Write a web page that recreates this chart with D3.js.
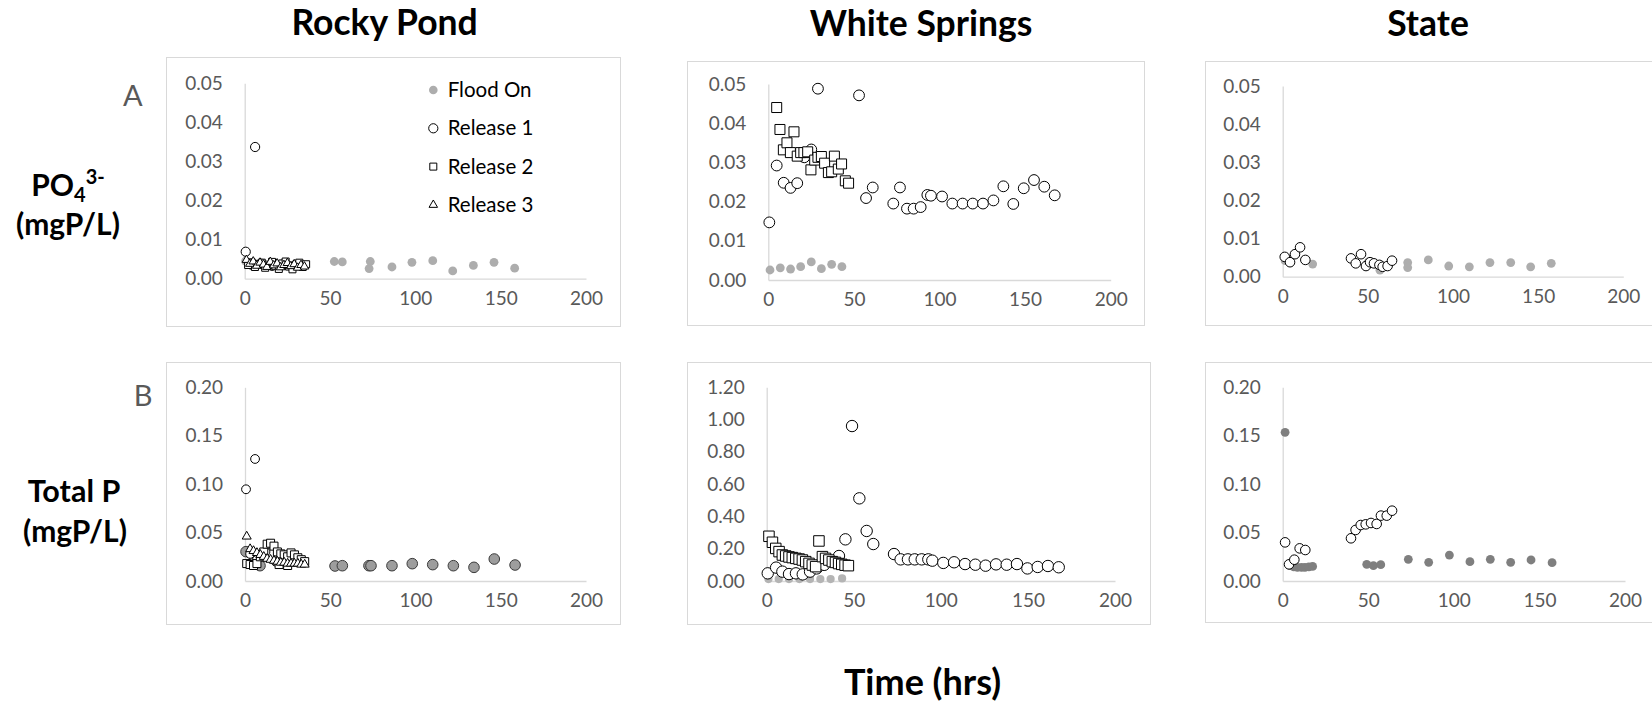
<!DOCTYPE html>
<html>
<head>
<meta charset="utf-8">
<script src="https://cdn.jsdelivr.net/npm/d3@7"></script>
<style>
  body { margin: 0; background: #fff; }
  svg { display: block; font-family: Lato, "Open Sans", sans-serif; }
</style>
</head>
<body>
<div id="container"></div>
<script>
// ---------------- data (hours, mgP/L) ----------------
var sites = ["Rocky Pond", "White Springs", "State"];
var seriesNames = ["Flood On", "Release 1", "Release 2", "Release 3"];
var xTicks = [0, 50, 100, 150, 200];
var yTicksPO4 = [0, 0.01, 0.02, 0.03, 0.04, 0.05];
var yTicksTP = [0, 0.05, 0.10, 0.15, 0.20];
var yTicksTPws = [0, 0.2, 0.4, 0.6, 0.8, 1.0, 1.2];

// Rocky Pond, PO4
var rpA_flood = [[0.5,0.0045],[52.5,0.0044],[57.2,0.0043],[72.9,0.0026],[73.6,0.0044],[86.3,0.003],[98,0.0042],[110.2,0.0046],[121.9,0.002],[134,0.0034],[146.1,0.0042],[158.2,0.0027]];
var rpA_rel1 = [[0.6,0.0069],[6.1,0.0337],[4,0.0036],[10,0.0038],[16,0.0033],[22,0.0036],[28,0.0031]];
var rpA_rel2 = [[2,0.0035],[4,0.0042],[6,0.003],[8,0.0038],[10,0.0041],[12,0.0028],[14,0.0036],[16,0.0043],[18,0.0032],[20,0.0025],[22,0.0039],[24,0.0044],[26,0.0031],[28,0.0024],[30,0.0036],[32,0.0041],[34,0.003],[36,0.0037]];
var rpA_rel3 = [[1,0.0048],[3,0.0038],[5,0.0044],[7,0.0033],[9,0.0041],[11,0.0036],[13,0.003],[15,0.0043],[17,0.0034],[19,0.0039],[21,0.0029],[23,0.0035],[25,0.004],[27,0.0032],[29,0.0037],[31,0.0028],[33,0.0035],[35,0.0031]];

// White Springs, PO4
var wsA_flood = [[1,0.00255],[7,0.0031],[13,0.0028],[18.9,0.0034],[25.1,0.0046],[31,0.0029],[37,0.004],[43,0.0034]];
var wsA_rel1 = [[0.6,0.0147],[4.9,0.0292],[9,0.0248],[13,0.0235],[16.9,0.0247],[21,0.0313],[25.1,0.0333],[29,0.0488],[53,0.0471],[57.1,0.0209],[61,0.0236],[73,0.0195],[76.9,0.0236],[81,0.0182],[84.9,0.0182],[89,0.0186],[92.9,0.0217],[95,0.0215],[101.5,0.0213],[107.5,0.0195],[113.5,0.0195],[119.4,0.0195],[125.4,0.0195],[131.5,0.0203],[137.3,0.0239],[143.1,0.0194],[149.2,0.0234],[155.2,0.0255],[161.2,0.0238],[167.3,0.0216]];
var wsA_rel2 = [[4.9,0.044],[6.8,0.0384],[8.8,0.0332],[10.9,0.035],[12.9,0.0325],[15,0.0378],[16.9,0.0316],[18.9,0.0325],[20.8,0.0325],[23,0.0327],[24.9,0.0281],[27.1,0.0306],[29,0.0313],[31,0.0315],[32.9,0.0298],[35.1,0.0274],[37,0.0276],[38.6,0.0316],[40.9,0.0283],[42.8,0.0296],[45,0.0253],[46.9,0.0247]];

// State, PO4
var stA_flood = [[1.4,0.0042],[4.3,0.0038],[13.1,0.0045],[17.6,0.0033],[50.3,0.0039],[57.1,0.0017],[73.4,0.0037],[73.4,0.0024],[85.5,0.0044],[97.5,0.0028],[109.6,0.0026],[121.7,0.0037],[133.9,0.0037],[145.6,0.0026],[157.7,0.0035]];
var stA_rel1 = [[1.2,0.0052],[4.3,0.0038],[7.2,0.0059],[10.2,0.0077],[13.3,0.0044],[40.1,0.0048],[42.9,0.0035],[46,0.0059],[48.9,0.0028],[51.3,0.0038],[53.6,0.0035],[56.8,0.0031],[58.7,0.0026],[61.6,0.0028],[64.2,0.0042]];

// Rocky Pond, Total P
var rpB_flood = [[0.6,0.0303],[5,0.02],[8.8,0.0158],[52.8,0.0155],[57.1,0.0158],[72.7,0.0158],[73.9,0.0158],[86.2,0.0158],[98.1,0.0179],[110.1,0.0169],[122.2,0.0158],[134.3,0.0141],[146.2,0.0227],[158.4,0.0165]];
var rpB_rel1 = [[0.6,0.0947],[5.9,0.126],[3,0.028],[7,0.022],[12,0.03],[18,0.02]];
var rpB_rel2 = [[1,0.018],[3,0.017],[5,0.016],[7,0.018],[9,0.025],[11,0.03],[13,0.038],[15,0.039],[17,0.036],[19,0.03],[21,0.028],[23,0.027],[25,0.025],[27,0.029],[29,0.027],[31,0.024],[33,0.022],[35,0.02],[20,0.017],[25,0.016]];
var rpB_rel3 = [[1,0.046],[3,0.033],[5,0.031],[7,0.029],[9,0.027],[11,0.025],[13,0.023],[15,0.022],[17,0.021],[19,0.02],[21,0.019],[23,0.019],[25,0.018],[27,0.018],[29,0.018],[31,0.018],[33,0.017],[35,0.017]];

// White Springs, Total P
var wsB_flood = [[1,0.012],[6.9,0.012],[12.8,0.012],[18.8,0.012],[24.9,0.012],[30.8,0.012],[36.7,0.012],[43.3,0.016]];
var wsB_rel1 = [[0.6,0.0475],[5.4,0.083],[9,0.058],[12.8,0.043],[16.8,0.0475],[20.7,0.041],[24.9,0.058],[28.7,0.078],[33,0.1],[41.5,0.155],[45.2,0.258],[49,0.96],[53.2,0.512],[57.4,0.31],[61.2,0.229],[73.1,0.167],[76.9,0.134],[81.1,0.134],[85,0.134],[89,0.134],[92.8,0.134],[95.1,0.126],[101.4,0.112],[107.6,0.116],[113.9,0.105],[119.8,0.101],[125.7,0.095],[131.7,0.103],[137.8,0.101],[143.7,0.105],[149.7,0.078],[155.6,0.087],[161.5,0.093],[167.7,0.085]];
var wsB_rel2 = [[1.3,0.277],[3.3,0.24],[5.2,0.202],[7.1,0.182],[9,0.161],[10.9,0.155],[12.8,0.149],[14.7,0.145],[16.7,0.14],[18.6,0.136],[20.5,0.13],[22.4,0.12],[24.3,0.109],[26.2,0.099],[28.1,0.089],[30,0.248],[32,0.151],[33.8,0.14],[35.7,0.13],[37.7,0.12],[39.5,0.115],[41.3,0.108],[43.1,0.103],[45,0.098],[46.9,0.095]];

// State, Total P
var stB_flood = [[1.4,0.1535],[4.3,0.0158],[6.5,0.0145],[8.6,0.014],[11,0.014],[13,0.014],[15.3,0.0145],[17.5,0.015],[49.1,0.0172],[53,0.0158],[57.3,0.0169],[73.4,0.0224],[85.3,0.0193],[97.4,0.0268],[109.4,0.02],[121.3,0.0224],[133.2,0.0193],[145.1,0.0217],[157.4,0.0189]];
var stB_rel1 = [[1.4,0.0399],[3.7,0.0172],[6.8,0.022],[9.9,0.0337],[13.2,0.032],[39.9,0.0441],[42.6,0.0527],[45.6,0.0578],[48.5,0.0585],[51.6,0.0599],[54.9,0.0589],[57.4,0.0675],[60.8,0.0675],[63.9,0.0726]];

// ---------------- layout ----------------
var W = 1652, H = 704;
var svg = d3.select("#container").append("svg")
    .attr("width", W).attr("height", H);

// box: frame rect; plot: x0/x1 pixel for 0..200, y0/y1 pixel for 0..max
var panels = [
  {box: [166, 57, 620, 326], plot: [244.7, 586, 278.7, 83.3], yMax: 0.05, yTicks: yTicksPO4,
   floodFill: "#adadad", floodStroke: "none", rF: 4.4, rO: 4.6, sq: 7, tri: 8.5,
   series: [rpA_flood, rpA_rel1, rpA_rel2, rpA_rel3], legend: true},
  {box: [687, 61, 1144, 325], plot: [768.3, 1110.7, 280, 84], yMax: 0.05, yTicks: yTicksPO4,
   floodFill: "#adadad", floodStroke: "none", rF: 4.4, rO: 5.4, sq: 10, tri: 10,
   series: [wsA_flood, wsA_rel1, wsA_rel2, []]},
  {box: [1205, 61, 1700, 325], plot: [1282.7, 1623.3, 276.7, 86], yMax: 0.05, yTicks: yTicksPO4,
   floodFill: "#adadad", floodStroke: "none", rF: 4.4, rO: 4.8, sq: 9, tri: 9,
   series: [stA_flood, stA_rel1, [], []]},
  {box: [166, 362, 620, 624], plot: [245, 586, 581, 387.3], yMax: 0.20, yTicks: yTicksTP,
   floodFill: "#9d9d9d", floodStroke: "#3a3a3a", rF: 5.3, rO: 4.4, sq: 8, tri: 9,
   series: [rpB_flood, rpB_rel1, rpB_rel2, rpB_rel3]},
  {box: [687, 362, 1150, 624], plot: [766.7, 1115, 581, 387.3], yMax: 1.20, yTicks: yTicksTPws,
   floodFill: "#b4b4b4", floodStroke: "none", rF: 4.1, rO: 5.7, sq: 10.5, tri: 10,
   series: [wsB_flood, wsB_rel1, wsB_rel2, []]},
  {box: [1205, 362, 1700, 622], plot: [1282.7, 1625, 581, 387.3], yMax: 0.20, yTicks: yTicksTP,
   floodFill: "#7f7f7f", floodStroke: "none", rF: 4.4, rO: 4.8, sq: 9, tri: 9,
   series: [stB_flood, stB_rel1, [], []]}
];

var axisGrey = "#d9d9d9";
var tickGrey = "#595959";

function drawMarkers(g, kind, data, p, x, y) {
  if (kind === 0 || kind === 1) {
    g.selectAll("circle.s" + kind)
      .data(data)
      .enter()
      .append("circle")
      .attr("class", "s" + kind)
      .attr("cx", function(d) { return x(d[0]); })
      .attr("cy", function(d) { return y(d[1]); })
      .attr("r", kind === 0 ? p.rF : p.rO)
      .attr("fill", kind === 0 ? p.floodFill : "#fff")
      .attr("stroke", kind === 0 ? p.floodStroke : "#000")
      .attr("stroke-width", 1);
  } else {
    var sym = kind === 2
      ? d3.symbol().type(d3.symbolSquare).size(p.sq * p.sq)
      : d3.symbol().type(d3.symbolTriangle).size(0.433 * p.tri * p.tri);
    g.selectAll("path.s" + kind)
      .data(data)
      .enter()
      .append("path")
      .attr("class", "s" + kind)
      .attr("transform", function(d) { return "translate(" + x(d[0]) + "," + y(d[1]) + ")"; })
      .attr("d", sym)
      .attr("fill", "#fff")
      .attr("stroke", "#000")
      .attr("stroke-width", 1);
  }
}

panels.forEach(function(p) {
  var g = svg.append("g");
  g.append("rect")
    .attr("x", p.box[0] + 0.5).attr("y", p.box[1] + 0.5)
    .attr("width", p.box[2] - p.box[0]).attr("height", p.box[3] - p.box[1])
    .attr("fill", "#fff").attr("stroke", axisGrey);

  var x = d3.scaleLinear().domain([0, 200]).range([p.plot[0], p.plot[1]]);
  var y = d3.scaleLinear().domain([0, p.yMax]).range([p.plot[2], p.plot[3]]);

  var yAxis = d3.axisLeft(y).tickValues(p.yTicks).tickFormat(d3.format(".2f"))
      .tickSize(0).tickSizeOuter(0).tickPadding(22);
  var xAxis = d3.axisBottom(x).tickValues(xTicks).tickFormat(d3.format("d"))
      .tickSize(0).tickSizeOuter(0).tickPadding(13);

  var gy = g.append("g").attr("transform", "translate(" + p.plot[0] + ",0)").call(yAxis);
  var gx = g.append("g").attr("transform", "translate(0," + p.plot[2] + ")").call(xAxis);
  [gx, gy].forEach(function(a) {
    a.select(".domain").attr("stroke", axisGrey).attr("stroke-width", 1.3);
    a.selectAll("text").attr("fill", tickGrey).style("font-size", "19px")
      .style("font-family", "Lato, sans-serif");
  });

  p.series.forEach(function(data, k) {
    drawMarkers(g, k, data, p, x, y);
  });

  if (p.legend) {
    var lx = 433.3, ly0 = 90, step = 38.3;
    seriesNames.forEach(function(name, k) {
      var cy = ly0 + k * step;
      var lg = g.append("g");
      var lp = {rF: 4.3, rO: 4.6, sq: 7, tri: 8.5, floodFill: p.floodFill, floodStroke: p.floodStroke};
      var ident = function(v) { return v; };
      drawMarkers(lg, k, [[lx, cy]], lp, ident, ident);
      lg.append("text")
        .attr("x", 447.7).attr("y", cy)
        .attr("dy", "0.35em")
        .attr("fill", "#000")
        .style("font-size", "20.5px")
        .text(name);
    });
  }
});

// ---------------- titles and labels ----------------
var titleX = [384.6, 921, 1428];
var titleY = [34.5, 36, 35.5];
sites.forEach(function(s, i) {
  svg.append("text")
    .attr("x", titleX[i]).attr("y", titleY[i])
    .attr("text-anchor", "middle")
    .style("font-size", "35.5px").style("font-weight", "bold")
    .text(s);
});

svg.append("text").attr("x", 132.7).attr("y", 106)
  .attr("text-anchor", "middle").attr("fill", tickGrey)
  .style("font-size", "29px").text("A");
svg.append("text").attr("x", 143).attr("y", 405.5)
  .attr("text-anchor", "middle").attr("fill", tickGrey)
  .style("font-size", "29px").text("B");

var po4 = svg.append("text").attr("x", 68).attr("y", 196)
  .attr("text-anchor", "middle")
  .style("font-size", "30px").style("font-weight", "bold");
po4.append("tspan").text("PO");
po4.append("tspan").attr("dy", 6).style("font-size", "20px").text("4");
po4.append("tspan").attr("dy", -18).style("font-size", "20px").text("3-");

svg.append("text").attr("x", 68).attr("y", 235)
  .attr("text-anchor", "middle")
  .style("font-size", "30px").style("font-weight", "bold")
  .text("(mgP/L)");

svg.append("text").attr("x", 74).attr("y", 502)
  .attr("text-anchor", "middle")
  .style("font-size", "30.5px").style("font-weight", "bold")
  .text("Total P");
svg.append("text").attr("x", 75).attr("y", 542)
  .attr("text-anchor", "middle")
  .style("font-size", "30px").style("font-weight", "bold")
  .text("(mgP/L)");

svg.append("text").attr("x", 922.5).attr("y", 695)
  .attr("text-anchor", "middle")
  .style("font-size", "36px").style("font-weight", "bold")
  .text("Time (hrs)");
</script>
</body>
</html>
